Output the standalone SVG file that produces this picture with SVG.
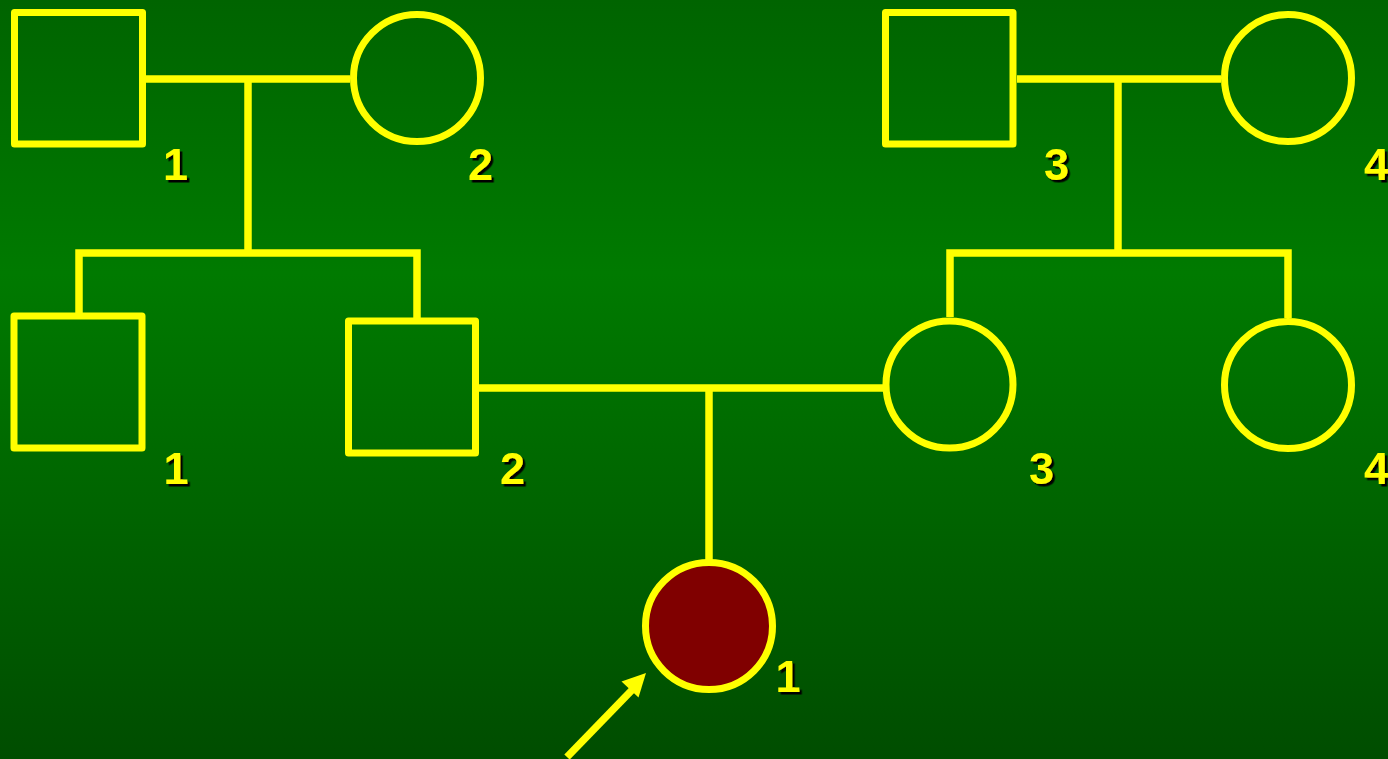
<svg xmlns="http://www.w3.org/2000/svg" width="1388" height="759" viewBox="0 0 1388 759">
<defs>
<linearGradient id="bg" x1="0" y1="0" x2="0" y2="1">
<stop offset="0" stop-color="#006400"/>
<stop offset="0.36" stop-color="#007a00"/>
<stop offset="1" stop-color="#004d00"/>
</linearGradient>
<filter id="sh" x="-20%" y="-20%" width="160%" height="160%">
<feDropShadow dx="2.5" dy="2.5" stdDeviation="0" flood-color="#000000" flood-opacity="1"/>
</filter>
</defs>
<style>
.sym{fill:none;stroke:#ffff00;stroke-width:7;stroke-linejoin:round}
.aff{fill:#800000;stroke:#ffff00;stroke-width:7}
.ln{fill:none;stroke:#ffff00;stroke-width:7.5;stroke-linejoin:miter}
.lbl{font-family:"Liberation Sans",Arial,sans-serif;font-weight:bold;font-size:45px;fill:#ffff00;text-anchor:middle;filter:url(#sh)}
</style>
<rect x="0" y="0" width="1388" height="759" fill="url(#bg)"/>
<g id="connectors">
<path class="ln" d="M146,79 H350"/>
<path class="ln" d="M248,79 V253"/>
<path class="ln" d="M79,314 V253 H417 V319"/>
<path class="ln" d="M1017,79 H1221"/>
<path class="ln" d="M1118,79 V253"/>
<path class="ln" d="M950,317 V253 H1288 V318"/>
<path class="ln" d="M479,388 H883"/>
<path class="ln" d="M709,388 V560"/>
<g id="arrow">
<path class="ln" d="M567,757 L632,690"/>
<polygon points="646,673 621.5,681.5 638.5,697.5" fill="#ffff00"/>
</g>
</g>
<g id="I-1"><rect class="sym" x="14.5" y="12.5" width="128" height="131.5"/><text class="lbl" x="175.5" y="179.5">1</text></g>
<g id="I-2"><circle class="sym" cx="417" cy="78" r="63.5"/><text class="lbl" x="480.5" y="179.5">2</text></g>
<g id="I-3"><rect class="sym" x="885.5" y="12.5" width="127.5" height="131.5"/><text class="lbl" x="1056.5" y="179.5">3</text></g>
<g id="I-4"><circle class="sym" cx="1288" cy="78" r="63.5"/><text class="lbl" x="1376.5" y="179.5">4</text></g>
<g id="II-1"><rect class="sym" x="14" y="316" width="128" height="132"/><text class="lbl" x="176" y="484">1</text></g>
<g id="II-2"><rect class="sym" x="348.5" y="321" width="127" height="132"/><text class="lbl" x="512.5" y="484">2</text></g>
<g id="II-3"><circle class="sym" cx="949.5" cy="384.5" r="63.5"/><text class="lbl" x="1041.5" y="484">3</text></g>
<g id="II-4"><circle class="sym" cx="1288" cy="385" r="63.5"/><text class="lbl" x="1376.5" y="484">4</text></g>
<g id="III-1"><circle class="aff" cx="709" cy="626" r="63.5"/><text class="lbl" x="788" y="692">1</text></g>
</svg>
